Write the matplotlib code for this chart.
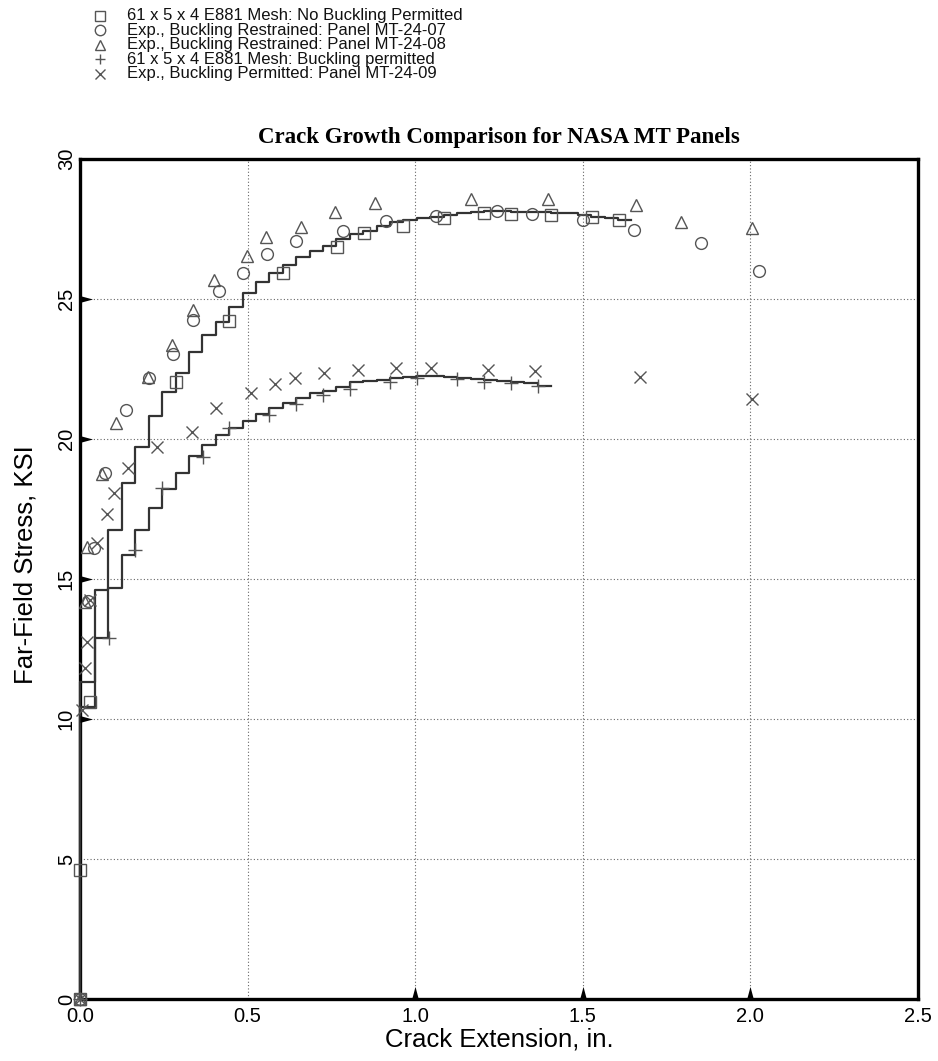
import numpy as np
import matplotlib
matplotlib.use("Agg")
import matplotlib.pyplot as plt
from matplotlib.lines import Line2D
from matplotlib.path import Path

# step boundaries (crack extension, in.) and FE stress levels
edges_nobuck = [0.0, 0.045, 0.085, 0.125, 0.165, 0.205, 0.245, 0.285, 0.325, 0.365,
                0.405, 0.445, 0.485, 0.525, 0.565, 0.605, 0.645, 0.685, 0.725, 0.765,
                0.805, 0.845, 0.885, 0.925, 0.965, 1.005, 1.045, 1.085, 1.125, 1.165,
                1.205, 1.245, 1.285, 1.325, 1.365, 1.405, 1.445, 1.485, 1.525, 1.565,
                1.605, 1.645]
level_nobuck = [11.33, 14.61, 16.75, 18.42, 19.70, 20.81, 21.67, 22.35, 23.12, 23.71,
                24.17, 24.73, 25.23, 25.60, 25.92, 26.21, 26.51, 26.73, 26.89, 27.13,
                27.32, 27.44, 27.61, 27.74, 27.82, 27.88, 27.94, 27.99, 28.06, 28.11,
                28.13, 28.14, 28.12, 28.11, 28.10, 28.08, 28.06, 28.00, 27.94, 27.88,
                27.82]

edges_buck = [0.0, 0.045, 0.085, 0.125, 0.165, 0.205, 0.245, 0.285, 0.325, 0.365,
              0.405, 0.445, 0.485, 0.525, 0.565, 0.605, 0.645, 0.685, 0.725, 0.765,
              0.805, 0.845, 0.885, 0.925, 0.965, 1.005, 1.045, 1.085, 1.125, 1.165,
              1.205, 1.245, 1.285, 1.325, 1.365, 1.405]
level_buck = [10.44, 12.90, 14.67, 15.86, 16.75, 17.52, 18.20, 18.80, 19.39, 19.79,
              20.14, 20.38, 20.65, 20.89, 21.10, 21.30, 21.45, 21.63, 21.73, 21.85,
              22.02, 22.06, 22.11, 22.19, 22.23, 22.25, 22.25, 22.23, 22.19, 22.14,
              22.11, 22.07, 22.02, 21.99, 21.90]

# markers
sq_x = [0.0, 0.0, 0.03, 0.287, 0.446, 0.605, 0.766, 0.846, 0.965, 1.087, 1.206, 1.286,
        1.405, 1.527, 1.607]
sq_y = [0.0, 4.6, 10.6, 22.02, 24.23, 25.92, 26.87, 27.35, 27.6, 27.9, 28.08, 28.04,
        27.99, 27.94, 27.82]

circ_x = [0.0, 0.025, 0.042, 0.075, 0.136, 0.207, 0.277, 0.336, 0.414, 0.486, 0.559,
          0.645, 0.784, 0.913, 1.063, 1.244, 1.348, 1.5, 1.654, 1.853, 2.025]
circ_y = [0.0, 14.2, 16.1, 18.77, 21.02, 22.17, 23.04, 24.25, 25.29, 25.94, 26.6,
          27.07, 27.43, 27.8, 27.98, 28.15, 28.04, 27.82, 27.46, 27.01, 26.0]

tri_x = [0.0, 0.015, 0.02, 0.065, 0.107, 0.204, 0.274, 0.336, 0.4, 0.498, 0.555, 0.659,
         0.761, 0.879, 1.167, 1.395, 1.658, 1.792, 2.006]
tri_y = [0.0, 14.19, 16.15, 18.75, 20.58, 22.23, 23.36, 24.61, 25.68, 26.54, 27.2,
         27.56, 28.12, 28.44, 28.56, 28.56, 28.36, 27.76, 27.52]

plus_x = [0.0, 0.0876, 0.164, 0.244, 0.366, 0.446, 0.565, 0.645, 0.724, 0.804, 0.925,
          1.005, 1.124, 1.204, 1.286, 1.365]
plus_y = [0.0, 12.88, 16.04, 18.24, 19.37, 20.41, 20.86, 21.25, 21.57, 21.77, 22.05,
          22.17, 22.13, 22.05, 21.99, 21.89]

cross_x = [0.0, 0.005, 0.015, 0.02, 0.03, 0.05, 0.08, 0.102, 0.144, 0.229, 0.333, 0.406,
           0.51, 0.582, 0.642, 0.729, 0.828, 0.943, 1.047, 1.217, 1.356, 1.672, 2.005]
cross_y = [0.0, 10.32, 11.81, 12.76, 14.25, 16.27, 17.32, 18.08, 18.95, 19.70, 20.26,
           21.1, 21.65, 21.96, 22.17, 22.37, 22.46, 22.52, 22.52, 22.46, 22.43, 22.2,
           21.42]

labels = ['61 x 5 x 4 E881 Mesh: No Buckling Permitted',
          'Exp., Buckling Restrained: Panel MT-24-07',
          'Exp., Buckling Restrained: Panel MT-24-08',
          '61 x 5 x 4 E881 Mesh: Buckling permitted',
          'Exp., Buckling Permitted: Panel MT-24-09']

xticks = [0.0, 0.5, 1.0, 1.5, 2.0, 2.5]
yticks = [0, 5, 10, 15, 20, 25, 30]

plt.rcParams['font.family'] = ['Liberation Sans', 'DejaVu Sans']

W, H = 938, 1061
fig = plt.figure(figsize=(W/100, H/100), dpi=100)
ax = fig.add_axes([80/W, 1-999/H, (918-80)/W, (999-159)/H])

lc = '#333333'
mc = '#555555'

# step curves
ax.step([0.0] + edges_nobuck, [0.0] + level_nobuck + [level_nobuck[-1]],
        where='post', color=lc, lw=1.6, clip_on=False, zorder=3)
ax.step([0.0] + edges_buck, [0.0] + level_buck + [level_buck[-1]],
        where='post', color=lc, lw=1.6, clip_on=False, zorder=3)

mk = dict(linestyle='none', mfc='none', mec=mc, mew=1.0, clip_on=False, zorder=4)
h_sq, = ax.plot(sq_x, sq_y, marker='s', ms=8, **mk)
h_ci, = ax.plot(circ_x, circ_y, marker='o', ms=8.5, **mk)
h_tr, = ax.plot(tri_x, tri_y, marker='^', ms=9, **mk)
h_pl, = ax.plot(plus_x, plus_y, marker='+', ms=10, **mk)
h_cr, = ax.plot(cross_x, cross_y, marker='x', ms=9, **mk)

ax.set_xlim(0, 2.5)
ax.set_ylim(0, 30)
ax.set_xticks(xticks)
ax.set_xticklabels(['%.1f' % v for v in xticks])
ax.set_yticks(yticks)
ax.set_yticklabels([str(v) for v in yticks], rotation=90, va='center')
ax.tick_params(axis='x', length=0, labelsize=14.5, pad=6)
ax.tick_params(axis='y', length=0, labelsize=14.5, pad=3)
ax.grid(True, linestyle=(0, (1, 2)), color='#666666', lw=0.8)
for s in ax.spines.values():
    s.set_linewidth(2.4)

# narrow triangle tick marks pointing into the plot
tri_right = Path([(0, -0.27), (1, 0), (0, 0.27), (0, -0.27)],
                 [Path.MOVETO, Path.LINETO, Path.LINETO, Path.CLOSEPOLY])
tri_up = Path([(-0.27, 0), (0, 1), (0.27, 0), (-0.27, 0)],
              [Path.MOVETO, Path.LINETO, Path.LINETO, Path.CLOSEPOLY])
ax.plot([0]*4, yticks[2:6], marker=tri_right, ms=18, color='black', ls='none',
        mew=0, clip_on=False, zorder=5)
ax.plot(xticks[2:5], [0]*3, marker=tri_up, ms=18, color='black', ls='none',
        mew=0, clip_on=False, zorder=5)

ax.set_xlabel('Crack Extension, in.', fontsize=18.5)
ax.xaxis.set_label_coords(0.5, -0.034)
ax.set_ylabel('Far-Field Stress, KSI', fontsize=18.5)
ax.yaxis.set_label_coords(-0.051, 0.517)

fig.text(499/W, 1-137/H, 'Crack Growth Comparison for NASA MT Panels',
         ha='center', va='center', fontsize=16.5, fontweight='bold',
         family=['Liberation Serif', 'DejaVu Serif'])

# legend at top-left of the figure
handles = [h_sq, h_ci, h_tr, h_pl, h_cr]
for i, (h, lab) in enumerate(zip(handles, labels)):
    yy = 1 - (15.5 + 14.6*i)/H
    fig.add_artist(Line2D([100/W], [yy], transform=fig.transFigure,
                          marker=h.get_marker(), ms=7.5,
                          mfc='none', mec=mc, mew=1.0, ls='none'))
    fig.text(127/W, yy, lab, fontsize=12, va='center', ha='left', color='#111111')

fig.savefig('out.png', dpi=100)
